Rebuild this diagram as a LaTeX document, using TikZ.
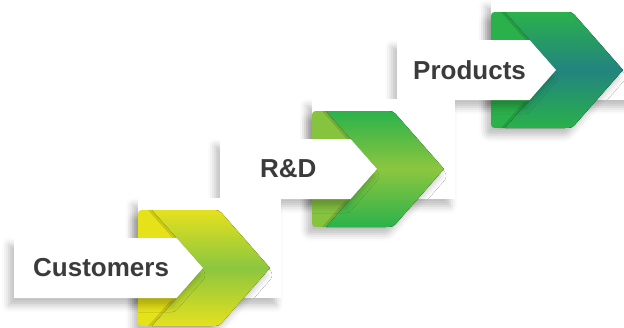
\documentclass[tikz,border=0pt]{standalone}
\usepackage{fontspec}
\setmainfont{Liberation Sans}
\usetikzlibrary{shadows.blur}

\definecolor{txtgray}{HTML}{3B3B3B}
\definecolor{custback}{HTML}{E6E21A}
\definecolor{custtop}{HTML}{E4E11E}
\definecolor{custmid}{HTML}{8CC63F}
\definecolor{rndback}{HTML}{86C440}
\definecolor{rndtop}{HTML}{2BB24C}
\definecolor{rndmid}{HTML}{8CC63F}
\definecolor{prodback}{HTML}{2BB14B}
\definecolor{prodtop}{HTML}{2AB14B}
\definecolor{prodmid}{HTML}{22847F}

\tikzset{
  softshadow/.style={blur shadow={shadow xshift=-5pt,shadow yshift=-7pt,
    shadow blur radius=7pt,shadow opacity=26}},
  card/.style={fill=white,softshadow},
  chevback/.style={fill=#1,softshadow},
  chevfront/.style 2 args={top color=#1,bottom color=#1,middle color=#2},
  fold/.style={fill=black,opacity=.12},
  labelbox/.style={fill=white,softshadow},
  steptext/.style={anchor=west,inner sep=0pt,text=txtgray,
    font=\fontsize{26}{30}\selectfont\bfseries}
}

% local shapes, origin = top left of the chevron, y grows downward
\def\chevout{(0,8) .. controls (0,0) .. (8,0) -- (73,0) .. controls (81,0) .. (86.3,6)
  -- (132,58) -- (86.3,110) .. controls (81,116) .. (73,116) -- (8,116)
  .. controls (0,116) .. (0,108) -- cycle}
\def\chevfrt{(14,0) -- (73,0) .. controls (81,0) .. (86.3,6) -- (132,58)
  -- (86.3,110) .. controls (81,116) .. (73,116) -- (14,116) -- (65,58) -- cycle}
\def\foldpath{(10,0) -- (14,0) -- (65,58) -- (14,116) -- (10,116) -- (61,58) -- cycle}

\begin{document}
\begin{tikzpicture}[x=1pt,y=-1pt]
\useasboundingbox (0,0) rectangle (624,327);

% Products
\begin{scope}[shift={(491,12)}]
\fill[card] (0,-12) rectangle (143,88);
\fill[chevback=prodback] \chevout;
\fill[fold] \foldpath;
\fill[chevfront={prodtop}{prodmid}] \chevfrt;
\fill[labelbox] (-94,28) -- (38.6,28) -- (65,58) -- (38.6,88) -- (-94,88) -- cycle;
\node[steptext] (prod) at (-78,58) {Products};
\end{scope}

% R&D
\begin{scope}[shift={(312,111)}]
\fill[card] (0,-12) rectangle (143,88);
\fill[chevback=rndback] \chevout;
\fill[fold] \foldpath;
\fill[chevfront={rndtop}{rndmid}] \chevfrt;
\fill[labelbox] (-92,28) -- (38.6,28) -- (65,58) -- (38.6,88) -- (-92,88) -- cycle;
\node[steptext] (rnd) at (-52,58) {R\&D};
\end{scope}

% Customers
\begin{scope}[shift={(138,210)}]
\fill[card] (0,-12) rectangle (143,88);
\fill[chevback=custback] \chevout;
\fill[fold] \foldpath;
\fill[chevfront={custtop}{custmid}] \chevfrt;
\fill[labelbox] (-124,28) -- (38.6,28) -- (65,58) -- (38.6,88) -- (-124,88) -- cycle;
\node[steptext] (cust) at (-105,58) {Customers};
\end{scope}
\end{tikzpicture}
\end{document}
